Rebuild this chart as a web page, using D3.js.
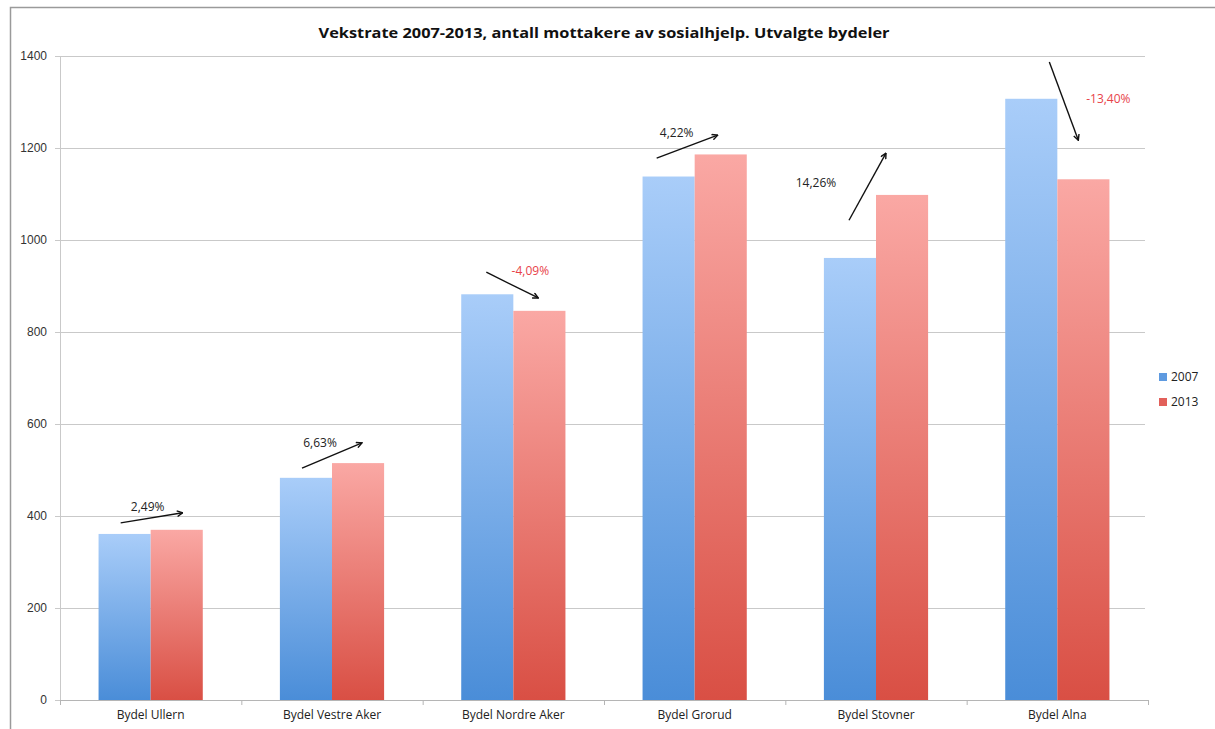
<!DOCTYPE html>
<html>
<head>
<meta charset="utf-8">
<script src="https://cdn.jsdelivr.net/npm/d3@7"></script>
<style>
  body { margin: 0; background: #fff; }
  svg { display: block; font-family: 'Open Sans', 'Liberation Sans', sans-serif; }
</style>
</head>
<body>
<div id="chart"></div>
<script>
// Data
const districts = ['Bydel Ullern', 'Bydel Vestre Aker', 'Bydel Nordre Aker', 'Bydel Grorud', 'Bydel Stovner', 'Bydel Alna'];
const years = ['2007', '2013'];
const values2007 = [361, 483, 882, 1138, 961, 1307];
const values2013 = [370, 515, 846, 1186, 1098, 1132];
const yTicks = [0, 200, 400, 600, 800, 1000, 1200, 1400];
const growthLabels = ['2,49%', '6,63%', '-4,09%', '4,22%', '14,26%', '-13,40%'];
// annotation arrows: x offsets from group centre (px), start/end in data values
const arrowDx0 = [-30, -30, -27, -38, -27, -8];
const arrowDx1 = [32, 30, 25, 23, 10, 21];
const arrowV0 = [385, 504, 930, 1178, 1043, 1387];
const arrowV1 = [407, 559, 874, 1228, 1189, 1217];
const labelDx = [-3, -12, 17, -18, -60, 51];
const labelV = [420, 559, 932, 1233, 1124, 1307];

const W = 1215, H = 729;
const margin = {top: 56, right: 67, bottom: 29, left: 60};

const svg = d3.select('#chart').append('svg')
    .attr('width', W)
    .attr('height', H);

// frame of the chart area
svg.append('path')
    .attr('d', `M10.5,${H} V7.5 H${W}`)
    .attr('fill', 'none')
    .attr('stroke', '#9a9a9a')
    .attr('stroke-width', 1.5);

const defs = svg.append('defs');
function grad(id, top, bottom) {
    const g = defs.append('linearGradient')
        .attr('id', id)
        .attr('x1', 0).attr('y1', 0).attr('x2', 0).attr('y2', 1);
    g.append('stop').attr('offset', '0%').attr('stop-color', top);
    g.append('stop').attr('offset', '100%').attr('stop-color', bottom);
}
grad('g2007', '#a9cdf9', '#4a8dd8');
grad('g2013', '#faa8a4', '#d94f44');

defs.append('marker')
    .attr('id', 'arrow')
    .attr('viewBox', '0 0 10 10')
    .attr('refX', 9).attr('refY', 5)
    .attr('markerWidth', 7).attr('markerHeight', 7)
    .attr('markerUnits', 'userSpaceOnUse')
    .attr('orient', 'auto')
  .append('path')
    .attr('d', 'M1,1 L9,5 L1,9')
    .attr('fill', 'none')
    .attr('stroke', '#111')
    .attr('stroke-width', 2);

const innerW = 1148 - margin.left;
const innerH = 700 - margin.top;

const g = svg.append('g')
    .attr('transform', `translate(${margin.left},${margin.top})`);

// Scales
const x0 = d3.scaleBand()
    .domain(districts)
    .range([0, innerW])
    .padding(0);

const x1 = d3.scaleBand()
    .domain(years)
    .range([0, x0.bandwidth()])
    .paddingInner(0)
    .paddingOuter(0.74);

const y = d3.scaleLinear()
    .domain([0, 1400])
    .range([innerH, 0]);

// Gridlines
g.append('g')
    .selectAll('line')
    .data(yTicks.filter(d => d > 0))
  .enter().append('line')
    .attr('x1', 0)
    .attr('x2', innerW - 3)
    .attr('y1', d => Math.round(y(d)) + 0.5)
    .attr('y2', d => Math.round(y(d)) + 0.5)
    .attr('stroke', '#c9c9c9')
    .attr('stroke-width', 1.2);

// Y axis
const yAxis = g.append('g')
    .call(d3.axisLeft(y).tickValues(yTicks).tickFormat(d3.format('d')).tickSize(5).tickPadding(8));
yAxis.select('.domain').attr('stroke', '#c9c9c9');
yAxis.selectAll('.tick line').attr('stroke', '#c9c9c9');
yAxis.selectAll('.tick text')
    .attr('fill', '#333')
    .style('font-size', '12px');

// Bars
const groups = g.selectAll('g.district')
    .data(districts.map((d, i) => ({name: d, vals: [values2007[i], values2013[i]]})))
  .enter().append('g')
    .attr('class', 'district')
    .attr('transform', d => `translate(${x0(d.name)},0)`);

groups.selectAll('rect')
    .data(d => years.map((yr, j) => ({year: yr, value: d.vals[j]})))
  .enter().append('rect')
    .attr('x', d => x1(d.year))
    .attr('y', d => y(d.value))
    .attr('width', x1.bandwidth())
    .attr('height', d => innerH - y(d.value))
    .attr('fill', d => `url(#g${d.year})`);

// X axis
const xAxisG = g.append('g')
    .attr('transform', `translate(0,${innerH})`);
xAxisG.append('line')
    .attr('x1', 0).attr('x2', innerW)
    .attr('y1', 0.5).attr('y2', 0.5)
    .attr('stroke', '#b5b5b5');
xAxisG.selectAll('line.tick')
    .data(districts.map(d => x0(d)).concat([innerW]))
  .enter().append('line')
    .attr('class', 'tick')
    .attr('x1', d => d + 0.5).attr('x2', d => d + 0.5)
    .attr('y1', 0).attr('y2', 5)
    .attr('stroke', '#b5b5b5');
xAxisG.selectAll('text')
    .data(districts)
  .enter().append('text')
    .attr('x', d => x0(d) + x0.bandwidth() / 2)
    .attr('y', 19)
    .attr('text-anchor', 'middle')
    .attr('fill', '#222')
    .style('font-size', '12px')
    .text(d => d);

// Annotations
districts.forEach((d, i) => {
    const cx = x0(d) + x0.bandwidth() / 2;
    g.append('line')
        .attr('x1', cx + arrowDx0[i])
        .attr('y1', y(arrowV0[i]))
        .attr('x2', cx + arrowDx1[i])
        .attr('y2', y(arrowV1[i]))
        .attr('stroke', '#111')
        .attr('stroke-width', 1.4)
        .attr('marker-end', 'url(#arrow)');
    const neg = growthLabels[i].startsWith('-');
    g.append('text')
        .attr('x', cx + labelDx[i])
        .attr('y', y(labelV[i]))
        .attr('dy', '0.35em')
        .attr('text-anchor', 'middle')
        .attr('fill', neg ? '#e8434a' : '#222')
        .style('font-size', '12px')
        .text(growthLabels[i]);
});

// Title
svg.append('text')
    .attr('x', 604)
    .attr('y', 38)
    .attr('text-anchor', 'middle')
    .attr('fill', '#111')
    .style('font-size', '15px')
    .style('font-weight', 'bold')
    .attr('textLength', 571)
    .attr('lengthAdjust', 'spacingAndGlyphs')
    .text('Vekstrate 2007-2013, antall mottakere av sosialhjelp. Utvalgte bydeler');

// Legend
const colors = {'2007': '#5e9ae0', '2013': '#e2605a'};
const legend = svg.append('g')
    .attr('transform', 'translate(1159,377)');
years.forEach((yr, i) => {
    const lg = legend.append('g')
        .attr('transform', `translate(0,${i * 25})`);
    lg.append('rect')
        .attr('x', 0).attr('y', -4)
        .attr('width', 8).attr('height', 8)
        .attr('fill', colors[yr]);
    lg.append('text')
        .attr('x', 12)
        .attr('y', 0)
        .attr('dy', '0.35em')
        .attr('fill', '#222')
        .style('font-size', '12px')
        .text(yr);
});
</script>
</body>
</html>
